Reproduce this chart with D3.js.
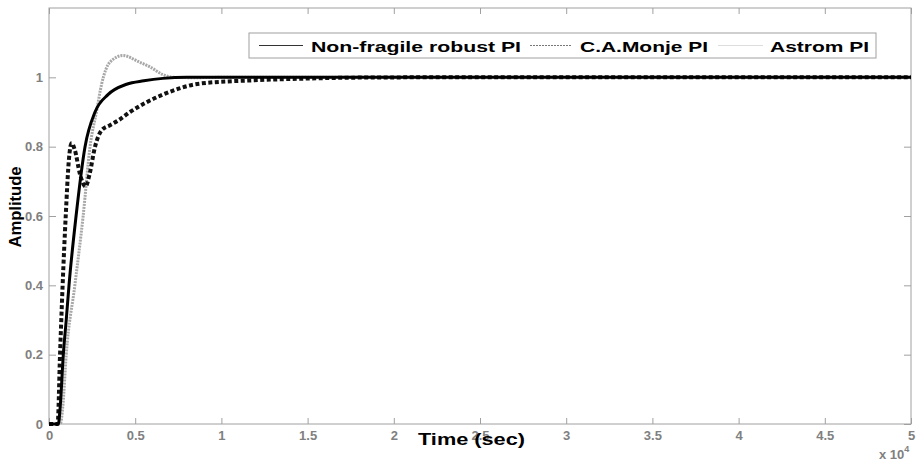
<!DOCTYPE html>
<html>
<head>
<meta charset="utf-8">
<script src="https://cdn.jsdelivr.net/npm/d3@7"></script>
<style>
  body { margin: 0; background: #fff; }
  svg { display: block; font-family: "Liberation Sans", Arial, sans-serif; }
</style>
</head>
<body>
<svg id="chart"></svg>
<script>
// time in units of 1e4 s
const robustT = [0, 0.054, 0.065, 0.083, 0.1, 0.116, 0.157, 0.209, 0.267, 0.342, 0.45, 0.55, 0.66, 0.8, 1.0, 5];
const robustY = [0, 0, 0.05, 0.2, 0.3, 0.4, 0.6, 0.8, 0.9, 0.95, 0.98, 0.99, 0.997, 1, 1, 1];

const monjeT = [0, 0.05, 0.064, 0.079, 0.097, 0.115, 0.131, 0.15, 0.18, 0.212, 0.235, 0.267, 0.305, 0.354, 0.40, 0.47, 0.66, 0.876, 1.166, 1.456, 1.75, 2.2, 5];
const monjeY = [0, 0, 0.2, 0.4, 0.6, 0.76, 0.81, 0.79, 0.72, 0.685, 0.72, 0.8, 0.847, 0.862, 0.875, 0.9, 0.95, 0.982, 0.991, 0.996, 0.999, 1, 1];

const astromT = [0, 0.065, 0.08, 0.10, 0.15, 0.198, 0.238, 0.277, 0.305, 0.354, 0.43, 0.52, 0.586, 0.66, 0.72, 0.85, 1.0, 5];
const astromY = [0, 0, 0.05, 0.2, 0.4, 0.6, 0.8, 0.905, 0.98, 1.044, 1.063, 1.045, 1.03, 1.008, 1.0, 0.999, 1, 1];

const seriesNames = ["Non-fragile robust PI", "C.A.Monje PI", "Astrom PI"];
const xTicks = [0, 0.5, 1, 1.5, 2, 2.5, 3, 3.5, 4, 4.5, 5];
const yTicks = [0, 0.2, 0.4, 0.6, 0.8, 1];

const W = 920, H = 465;
const margin = { left: 49, right: 9, top: 8, bottom: 41 };
const width = W - margin.left - margin.right;
const height = H - margin.top - margin.bottom;

const svg = d3.select("#chart").attr("width", W).attr("height", H);
svg.append("rect").attr("width", W).attr("height", H).attr("fill", "#fff");

const g = svg.append("g").attr("transform", `translate(${margin.left},${margin.top})`);

const x = d3.scaleLinear().domain([0, 5]).range([0, width]);
const y = d3.scaleLinear().domain([0, 1.2]).range([height, 0]);

const axisColor = "#a0a0a0";
const labelColor = "#808080";
const fmt = d3.format("~g");

function styleAxis(sel) {
  sel.select(".domain").remove();
  sel.selectAll(".tick line").attr("stroke", axisColor);
  sel.selectAll(".tick text")
    .attr("fill", labelColor)
    .style("font-size", "13px")
    .style("font-weight", "bold");
}

g.append("g").attr("transform", `translate(0,${height})`)
  .call(d3.axisBottom(x).tickValues(xTicks).tickFormat(fmt).tickSize(-6).tickPadding(7))
  .call(styleAxis);
g.append("g")
  .call(d3.axisTop(x).tickValues(xTicks).tickFormat("").tickSize(-6))
  .call(styleAxis);
g.append("g")
  .call(d3.axisLeft(y).tickValues(yTicks).tickFormat(fmt).tickSize(-7).tickPadding(6))
  .call(styleAxis);
g.append("g").attr("transform", `translate(${width},0)`)
  .call(d3.axisRight(y).tickValues(yTicks).tickFormat("").tickSize(-7))
  .call(styleAxis);

g.append("rect").attr("width", width).attr("height", height)
  .attr("fill", "none").attr("stroke", axisColor).attr("stroke-width", 1);

const line = d3.line()
  .x(d => x(d[0]))
  .y(d => y(d[1]))
  .curve(d3.curveMonotoneX);

const zip = (a, b) => a.map((t, i) => [t, b[i]]);

g.append("path").datum(zip(astromT, astromY))
  .attr("d", line).attr("fill", "none")
  .attr("stroke", "#a8a8a8").attr("stroke-width", 3)
  .attr("stroke-dasharray", "2,1");

g.append("path").datum(zip(monjeT, monjeY))
  .attr("d", line).attr("fill", "none")
  .attr("stroke", "#111").attr("stroke-width", 4)
  .attr("stroke-dasharray", "4,2.5");

g.append("path").datum(zip(robustT, robustY))
  .attr("d", line).attr("fill", "none")
  .attr("stroke", "#000").attr("stroke-width", 3);

// axis labels
svg.append("text")
  .attr("x", 418).attr("y", 445)
  .attr("textLength", 107).attr("lengthAdjust", "spacingAndGlyphs")
  .style("font-size", "17px").style("font-weight", "bold")
  .text("Time (sec)");

svg.append("text")
  .attr("transform", "translate(21,207) rotate(-90)")
  .attr("text-anchor", "middle")
  .attr("textLength", 81).attr("lengthAdjust", "spacingAndGlyphs")
  .style("font-size", "17px").style("font-weight", "bold")
  .text("Amplitude");

const mult = svg.append("text")
  .attr("x", 879).attr("y", 459)
  .attr("fill", labelColor)
  .style("font-size", "13px").style("font-weight", "bold");
mult.append("tspan").text("x 10");
mult.append("tspan").attr("dy", -7).style("font-size", "9px").text("4");

// legend
const legend = svg.append("g");
legend.append("rect")
  .attr("x", 249).attr("y", 33).attr("width", 627).attr("height", 25)
  .attr("fill", "#fff").attr("stroke", axisColor);

const legendItems = [
  { name: seriesNames[0], x0: 259, x1: 303, tx: 311, tw: 210, stroke: "#333", dash: null },
  { name: seriesNames[1], x0: 530, x1: 572, tx: 580, tw: 128, stroke: "#777", dash: "2,1" },
  { name: seriesNames[2], x0: 718, x1: 763, tx: 770, tw: 99, stroke: "#ddd", dash: null }
];
legendItems.forEach(d => {
  legend.append("line")
    .attr("x1", d.x0).attr("x2", d.x1).attr("y1", 45.5).attr("y2", 45.5)
    .attr("stroke", d.stroke).attr("stroke-width", 1)
    .attr("stroke-dasharray", d.dash);
  legend.append("text")
    .attr("x", d.tx).attr("y", 51.5)
    .attr("textLength", d.tw).attr("lengthAdjust", "spacingAndGlyphs")
    .style("font-size", "15px").style("font-weight", "bold")
    .text(d.name);
});
</script>
</body>
</html>
